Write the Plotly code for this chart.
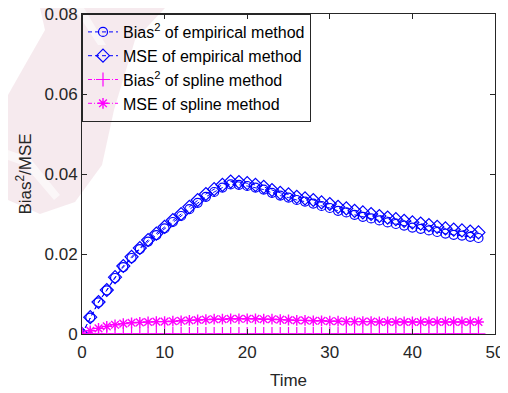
import plotly.graph_objects as go

time = list(range(0, 49))

bias_emp = [0, 0.0041, 0.0079, 0.0109, 0.0140, 0.0167, 0.0190, 0.0212, 0.0231, 0.0247, 0.0264,
            0.0280, 0.0295, 0.0312, 0.0328, 0.0343, 0.0355, 0.0366, 0.0374, 0.0373, 0.0370,
            0.0366, 0.0361, 0.0353, 0.0346, 0.0341, 0.0335, 0.0331, 0.0326, 0.0320, 0.0315,
            0.0308, 0.0304, 0.0298, 0.0293, 0.0289, 0.0284, 0.0279, 0.0275, 0.0271, 0.0266,
            0.0263, 0.0259, 0.0255, 0.0251, 0.0248, 0.0246, 0.0243, 0.0240]

mse_emp = [0, 0.0042, 0.0080, 0.0110, 0.0142, 0.0170, 0.0193, 0.0215, 0.0235, 0.0251, 0.0268,
           0.0285, 0.0300, 0.0318, 0.0335, 0.0350, 0.0362, 0.0373, 0.0381, 0.0380, 0.0377,
           0.0373, 0.0368, 0.0360, 0.0353, 0.0349, 0.0343, 0.0339, 0.0335, 0.0329, 0.0325,
           0.0318, 0.0314, 0.0308, 0.0304, 0.0300, 0.0295, 0.0291, 0.0287, 0.0283, 0.0279,
           0.0276, 0.0272, 0.0268, 0.0264, 0.0261, 0.0259, 0.0256, 0.0254]

bias_spline = [0] + [0.00003] * 48

mse_spline = [0, 0.0008, 0.0014, 0.0019, 0.0023, 0.0026, 0.0028, 0.0029, 0.0030, 0.0031, 0.0031,
              0.0032, 0.0033, 0.0034, 0.0035, 0.0036, 0.0037, 0.0037, 0.0038, 0.0038, 0.0038,
              0.0038, 0.0037, 0.0037, 0.0036, 0.0035, 0.0034, 0.0034, 0.0033, 0.0033, 0.0032,
              0.0032, 0.0031, 0.0031, 0.0031, 0.0031, 0.0030, 0.0030, 0.0030, 0.0030, 0.0030,
              0.0030, 0.0030, 0.0030, 0.0030, 0.0030, 0.0030, 0.0030, 0.0030]

x_ticks = [0, 10, 20, 30, 40, 50]
y_ticks = [0, 0.02, 0.04, 0.06, 0.08]
y_tick_labels = ["0", "0.02", "0.04", "0.06", "0.08"]

BLUE = "#0000FF"
MAGENTA = "#FF00FF"
AX = "#262626"
FONT = "Liberation Sans, Arial, Helvetica, sans-serif"
DASH = "4px,3px"
DASHDOT = "4px,2px,1px,2px"

fig = go.Figure()
fig.add_trace(go.Scatter(
    x=time, y=bias_emp, mode="lines+markers", name="Bias<sup>2</sup> of empirical method",
    line=dict(color=BLUE, width=1, dash=DASH),
    marker=dict(symbol="circle-open", size=9, color=BLUE, line=dict(width=1.2, color=BLUE))))
fig.add_trace(go.Scatter(
    x=time, y=mse_emp, mode="lines+markers", name="MSE of empirical method",
    line=dict(color=BLUE, width=1, dash=DASH),
    marker=dict(symbol="diamond-open", size=10, color=BLUE, line=dict(width=1.2, color=BLUE))))
fig.add_trace(go.Scatter(
    x=time, y=bias_spline, mode="lines+markers", name="Bias<sup>2</sup> of spline method",
    line=dict(color=MAGENTA, width=1, dash=DASHDOT),
    marker=dict(symbol="cross-thin-open", size=10, color=MAGENTA, line=dict(width=1.2, color=MAGENTA))))
fig.add_trace(go.Scatter(
    x=time, y=mse_spline, mode="lines+markers", name="MSE of spline method",
    line=dict(color=MAGENTA, width=1, dash=DASHDOT),
    marker=dict(symbol="asterisk-open", size=9, color=MAGENTA, line=dict(width=1.4, color=MAGENTA))))

# page body has an 8px default margin -> figure drawn 500x385 at offset (8, 8)
OFF = 8
L, R, T, B = 82 - OFF, 495 - OFF, 14 - OFF, 334 - OFF
W, H = 508 - OFF, 393 - OFF

def px(x, y):
    x, y = x - OFF, y - OFF
    return (x - L) / (R - L), (B - y) / (B - T)

def mkpath(points):
    pts = [px(*p) for p in points]
    return "M " + " L ".join(f"{a:.4f},{b:.4f}" for a, b in pts) + " Z"

blob = [(40, 8), (165, 8), (135, 40), (114, 110), (102, 165), (75, 202), (40, 214), (8, 200),
        (8, 95), (25, 65), (45, 30)]
streak1 = [(74, 8), (84, 8), (106, 45), (98, 45)]
streak2 = [(8, 150), (30, 158), (60, 195), (54, 200), (25, 166), (8, 160)]

fig.update_layout(
    width=W, height=H,
    margin=dict(l=L, r=W - R, t=T, b=H - B),
    paper_bgcolor="white", plot_bgcolor="rgba(0,0,0,0)",
    font=dict(family=FONT, size=17, color=AX),
    showlegend=True,
    legend=dict(x=0, y=1, xanchor="left", yanchor="top", bgcolor="rgba(0,0,0,0)",
                bordercolor=AX, borderwidth=1, font=dict(size=16, color="black"),
                itemwidth=30, tracegroupgap=0),
    shapes=[
        dict(type="path", path=mkpath(blob), xref="paper", yref="paper", layer="below",
             fillcolor="rgba(170,50,90,0.10)", line=dict(width=0)),
        dict(type="path", path=mkpath(streak1), xref="paper", yref="paper", layer="below",
             fillcolor="rgba(255,255,255,0.6)", line=dict(width=0)),
        dict(type="path", path=mkpath(streak2), xref="paper", yref="paper", layer="below",
             fillcolor="rgba(255,255,255,0.6)", line=dict(width=0)),
    ],
    xaxis=dict(range=[0, 50], tickvals=x_ticks, ticks="inside", ticklen=5, tickcolor=AX,
               showline=True, linecolor=AX, linewidth=1, mirror="ticks", showgrid=False,
               zeroline=False, automargin=False, ticklabeloverflow="allow",
               ticklabelstandoff=3,
               title=dict(text="Time", font=dict(size=17), standoff=12),
               tickfont=dict(size=17)),
    yaxis=dict(range=[0, 0.08], tickvals=y_ticks, ticktext=y_tick_labels, ticks="inside",
               ticklen=5, tickcolor=AX, showline=True, linecolor=AX, linewidth=1,
               mirror="ticks", showgrid=False, zeroline=False, automargin=False,
               ticklabeloverflow="allow",
               title=dict(text="Bias<sup>2</sup>/MSE", font=dict(size=17), standoff=8),
               tickfont=dict(size=17)),
)

fig.write_html("out.html")
